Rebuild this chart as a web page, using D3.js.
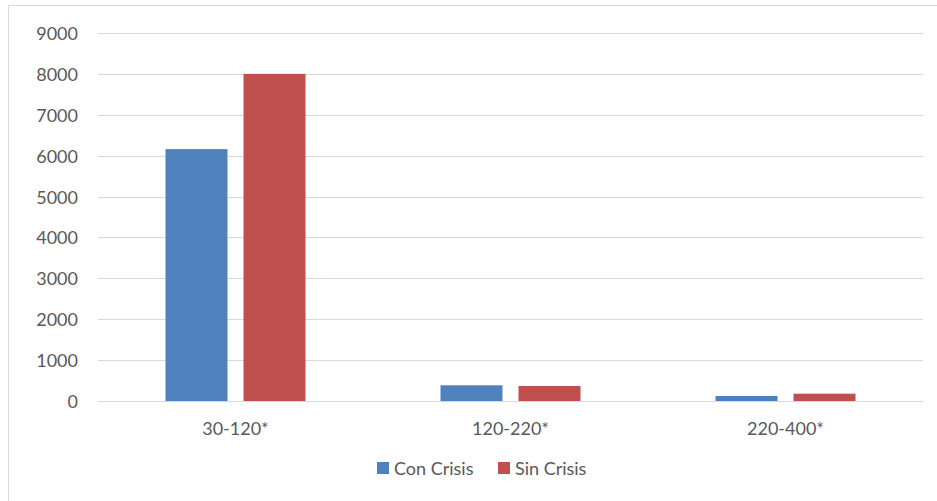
<!DOCTYPE html>
<html>
<head>
<meta charset="utf-8">
<script src="https://cdn.jsdelivr.net/npm/d3@7"></script>
<style>
  body { margin: 0; background: #fff; }
  text { font-family: Lato, "Open Sans", sans-serif; fill: #595959; }
</style>
</head>
<body>
<script>
// chart data
const categories = ["30-120*", "120-220*", "220-400*"];
const seriesNames = ["Con Crisis", "Sin Crisis"];
const conCrisis = [6160, 384, 122];
const sinCrisis = [8000, 367, 179];
const yTicks = [0, 1000, 2000, 3000, 4000, 5000, 6000, 7000, 8000, 9000];
const colors = ["#4f81bd", "#c0504d"];

const W = 937, H = 501;
const margin = {top: 33, right: 14, bottom: 100, left: 98};
const width = W - margin.left - margin.right;   // 825
const height = H - margin.top - margin.bottom;  // 368

const svg = d3.select("body").append("svg")
    .attr("width", W)
    .attr("height", H);

// outer frame (only left and top visible in the crop)
svg.append("path")
    .attr("d", `M8.5,${H} V5.5 H${W}`)
    .attr("fill", "none")
    .attr("stroke", "#d9d9d9")
    .attr("stroke-width", 1);

const g = svg.append("g")
    .attr("transform", `translate(${margin.left},${margin.top})`);

const x0 = d3.scaleBand()
    .domain(categories)
    .range([0, width]);

// two bars of 62px with a 16px gap
const x1 = d3.scaleBand()
    .domain(seriesNames)
    .range([0, 140])
    .paddingInner(16 / 78);

const y = d3.scaleLinear()
    .domain([0, 9000])
    .range([height, 0]);

// gridlines
g.append("g")
    .selectAll("line")
    .data(yTicks)
    .join("line")
    .attr("x1", 0)
    .attr("x2", width)
    .attr("y1", d => Math.round(y(d)) + 0.5)
    .attr("y2", d => Math.round(y(d)) + 0.5)
    .attr("stroke", "#d9d9d9")
    .attr("stroke-width", 1);

// y labels
g.append("g")
    .selectAll("text")
    .data(yTicks)
    .join("text")
    .attr("x", -20)
    .attr("y", d => y(d) + 7)
    .attr("text-anchor", "end")
    .style("font-size", "18px")
    .text(d => d);

// bars
const series = [conCrisis, sinCrisis];
const groups = g.append("g")
    .selectAll("g")
    .data(categories)
    .join("g")
    .attr("transform", d => `translate(${x0(d) + x0.bandwidth() / 2 - 70},0)`);

groups.selectAll("rect")
    .data((d, i) => seriesNames.map((s, j) => ({s, j, v: series[j][i]})))
    .join("rect")
    .attr("x", d => x1(d.s))
    .attr("width", x1.bandwidth())
    .attr("y", d => y(d.v))
    .attr("height", d => height - y(d.v))
    .attr("fill", d => colors[d.j]);

// x labels
g.append("g")
    .selectAll("text")
    .data(categories)
    .join("text")
    .attr("x", d => x0(d) + x0.bandwidth() / 2)
    .attr("y", height + 34)
    .attr("text-anchor", "middle")
    .style("font-size", "18px")
    .text(d => d);

// legend
const legend = svg.append("g")
    .attr("transform", `translate(0,475)`);

const items = [
    {name: seriesNames[0], x: 377},
    {name: seriesNames[1], x: 498}
];
items.forEach((it, i) => {
    legend.append("rect")
        .attr("x", it.x)
        .attr("y", -13)
        .attr("width", 12)
        .attr("height", 12)
        .attr("fill", colors[i]);
    legend.append("text")
        .attr("x", it.x + 17)
        .attr("y", 0)
        .style("font-size", "18px")
        .text(it.name);
});
</script>
</body>
</html>
